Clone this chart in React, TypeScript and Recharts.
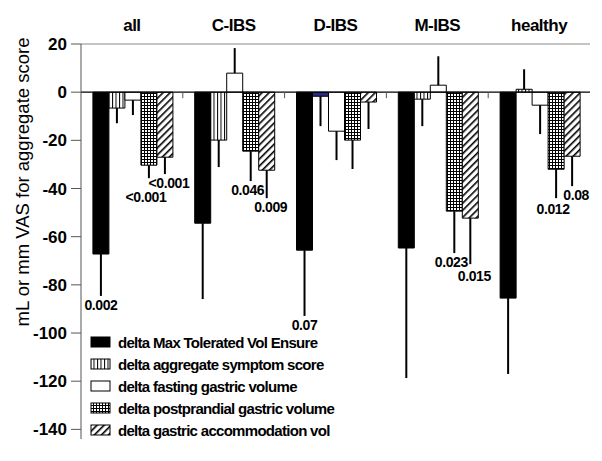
import { BarChart, Bar, XAxis, YAxis, ErrorBar, Cell, LabelList, Legend, ReferenceLine } from 'recharts';

const groups = ['all', 'C-IBS', 'D-IBS', 'M-IBS', 'healthy'];

const maxTolVol = [-67.2, -54.4, -65.6, -64.7, -85.5];
const maxTolVolErr = [17.4, 31.5, 27.3, 54, 31.5];
const maxTolVolP = ['0.002', '', '0.07', '', ''];

const aggScore = [-6.6, -19.9, -1.7, -2.9, 1.2];
const aggScoreErr = [6.3, 11.2, 12.4, 11.2, 8.3];

const fastingVol = [-3.3, 7.9, -16.2, 2.9, -5.4];
const fastingVolErr = [6.2, 10.4, 12, 12, 12];

const postVol = [-30.3, -24.5, -19.9, -49.4, -32];
const postVolErr = [5.4, 12.4, 12, 17.4, 12];
const postVolP = ['<0.001', '0.046', '', '0.023', '0.012'];

const accomVol = [-27, -32.4, -4.1, -52.3, -26.6];
const accomVolErr = [7, 11.6, 11.2, 19.1, 12.4];
const accomVolP = ['<0.001', '0.009', '', '0.015', '0.08'];

const yTicks = [20, 0, -20, -40, -60, -80, -100, -120, -140];
const groupEdges = [1, 2, 3, 4];

const FONT = '"Liberation Sans", Arial, Helvetica, sans-serif';

type Series = {
  key: string;
  name: string;
  values: number[];
  errs: number[];
  p: string[] | null;
  fill: string;
  labelDx?: number;
  partner?: string;
};

const series: Series[] = [
  { key: 'maxTol', name: 'delta Max Tolerated Vol Ensure', values: maxTolVol, errs: maxTolVolErr, p: maxTolVolP, fill: '#000000' },
  { key: 'agg', name: 'delta aggregate symptom score', values: aggScore, errs: aggScoreErr, p: null, fill: 'url(#vstripe)' },
  { key: 'fasting', name: 'delta fasting gastric volume', values: fastingVol, errs: fastingVolErr, p: null, fill: '#ffffff' },
  { key: 'post', name: 'delta postprandial gastric volume', values: postVol, errs: postVolErr, p: postVolP, fill: 'url(#grid)', labelDx: -3, partner: 'accom' },
  { key: 'accom', name: 'delta gastric accommodation vol', values: accomVol, errs: accomVolErr, p: accomVolP, fill: 'url(#diag)', labelDx: 4, partner: 'post' },
];

const data = groups.map((g, i) => {
  const row: any = { group: g, pos: i + 0.5 };
  series.forEach((s) => {
    const v = s.values[i];
    const e = s.errs[i];
    row[s.key] = v;
    row[s.key + 'Err'] = v < 0 ? [e, 0] : [0, e];
    row[s.key + 'P'] = s.p ? s.p[i] : '';
  });
  return row;
});

// tip of the error bar, in data units
const errorTip = (s: Series, i: number) => (s.values[i] < 0 ? s.values[i] - s.errs[i] : s.values[i] + s.errs[i]);

// p-value text placed just past the end of the error bar; pushed down if it would hit the neighbour's label
const pLabel = (s: Series) => (props: any) => {
  const { x, y, width, height, value, index } = props;
  if (!value) return null;
  const h = Number(height);
  const top = Number(y);
  const pxPerUnit = Math.abs(h) / Math.abs(s.values[index]);
  const bottom = Math.max(top, top + h);
  const end = bottom + s.errs[index] * pxPerUnit;
  let cy = end + 9;
  const other = series.find((o) => o.key === s.partner);
  if (other && other.p && other.p[index]) {
    const otherCy = end + (errorTip(s, index) - errorTip(other, index)) * pxPerUnit + 9;
    if (cy > otherCy && cy - otherCy < 14) cy = otherCy + 14;
  }
  return (
    <text
      x={Number(x) + Number(width) / 2 + (s.labelDx || 0)}
      y={cy}
      textAnchor="middle"
      dominantBaseline="central"
      fontFamily={FONT}
      fontSize={14}
      fontWeight={700}
      letterSpacing={-0.4}
      fill="#000"
    >
      {value}
    </text>
  );
};

const YTitle = () => (
  <text
    x={22}
    y={182}
    transform="rotate(-90 22 182)"
    textAnchor="middle"
    dominantBaseline="central"
    fontFamily={FONT}
    fontSize={18.5}
    fill="#000"
  >
    mL or mm VAS for aggregate score
  </text>
);

const LegendBox = () => (
  <div style={{ fontFamily: FONT }}>
    {series.map((s) => (
      <div key={s.key} style={{ display: 'flex', alignItems: 'center', height: 22 }}>
        <svg width={22} height={12} style={{ marginRight: 6 }}>
          <rect x={1} y={1} width={19} height={10} fill={s.fill} stroke="#000" strokeWidth={1} />
        </svg>
        <span style={{ fontSize: 15, fontWeight: 700, letterSpacing: -0.7, color: '#000', whiteSpace: 'nowrap' }}>
          {s.name}
        </span>
      </div>
    ))}
  </div>
);

export default function App() {
  return (
    <div style={{ position: 'absolute', left: 0, top: 0, width: 602, height: 461, background: '#fff' }}>
      <BarChart
        width={602}
        height={461}
        data={data}
        margin={{ top: 0, right: 12, bottom: 22, left: 0 }}
        barCategoryGap="11.7%"
        barGap={0}
      >
        <defs>
          <pattern id="vstripe" patternUnits="userSpaceOnUse" width={3.5} height={4}>
            <rect width={3.5} height={4} fill="#fff" />
            <rect x={0} width={1} height={4} fill="#000" />
          </pattern>
          <pattern id="grid" patternUnits="userSpaceOnUse" width={3} height={3}>
            <rect width={3} height={3} fill="#fff" />
            <rect x={0} width={1} height={3} fill="#000" />
            <rect y={0} width={3} height={1} fill="#000" />
          </pattern>
          <pattern id="diag" patternUnits="userSpaceOnUse" width={5} height={5} patternTransform="rotate(45)">
            <rect width={5} height={5} fill="#fff" />
            <rect x={0} width={1.6} height={5} fill="#000" />
          </pattern>
        </defs>
        <XAxis
          dataKey="group"
          orientation="top"
          height={44}
          axisLine={{ stroke: '#888' }}
          tickLine={false}
          tickSize={0}
          tickMargin={13}
          tick={{ fontFamily: FONT, fontSize: 17, fontWeight: 700, fill: '#000', letterSpacing: -0.5 }}
        />
        <XAxis
          xAxisId="num"
          dataKey="pos"
          type="number"
          domain={[0, 5]}
          orientation="bottom"
          height={0}
          tick={false}
          tickLine={false}
          axisLine={{ stroke: '#888' }}
        />
        <YAxis
          domain={[-144, 20]}
          ticks={yTicks}
          interval={0}
          width={81}
          tickSize={10}
          tickMargin={4}
          axisLine={{ stroke: '#555' }}
          tickLine={{ stroke: '#555' }}
          tick={{ fontFamily: FONT, fontSize: 17, fontWeight: 700, fill: '#000' }}
          label={<YTitle />}
        />
        <YAxis
          yAxisId="right"
          orientation="right"
          domain={[-144, 20]}
          width={0}
          tick={false}
          tickLine={false}
          axisLine={{ stroke: '#888' }}
        />
        <Legend
          layout="vertical"
          align="center"
          verticalAlign="middle"
          wrapperStyle={{ left: 90, top: 331, width: 320 }}
          content={<LegendBox />}
        />
        {series.map((s) => (
          <Bar
            key={s.key}
            dataKey={s.key}
            name={s.name}
            fill={s.fill}
            stroke="#000"
            strokeWidth={1}
            isAnimationActive={false}
          >
            {s.key === 'agg' &&
              data.map((d) => (
                <Cell key={d.group} fill={d.group === 'D-IBS' ? '#2b2b80' : s.fill} />
              ))}
            <ErrorBar dataKey={s.key + 'Err'} direction="y" width={0} stroke="#000" strokeWidth={2} />
            {s.p && <LabelList dataKey={s.key + 'P'} content={pLabel(s)} />}
          </Bar>
        ))}
        <ReferenceLine y={0} stroke="#000" strokeWidth={1.2} />
        {groupEdges.map((e) => (
          <ReferenceLine
            key={e}
            xAxisId="num"
            segment={[{ x: e, y: 0 }, { x: e, y: -2.5 }]}
            stroke="#555"
          />
        ))}
      </BarChart>
    </div>
  );
}
